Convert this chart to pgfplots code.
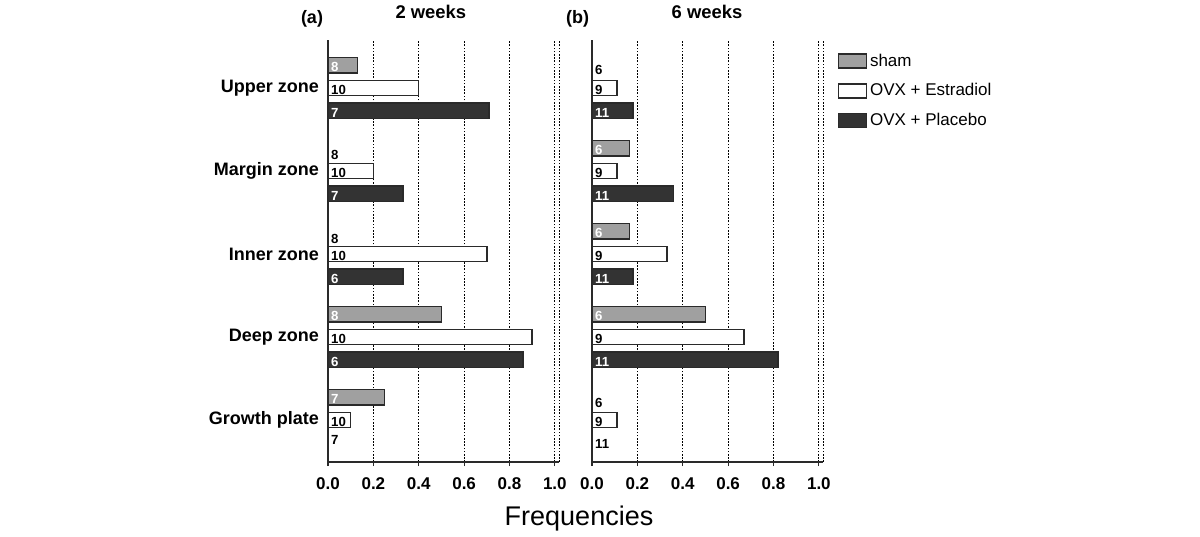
\documentclass[border=0pt]{standalone}
\usepackage{pgfplots}
\pgfplotsset{compat=1.18}
\usepackage{fontspec}
\setmainfont{Liberation Sans}
\definecolor{shamgray}{HTML}{A0A0A0}
\definecolor{darkbar}{HTML}{333333}
\definecolor{edge}{HTML}{2A2A2A}

\pgfplotsset{
  panel/.style={
    scale only axis, width=115.7pt, height=211pt, anchor=south west,
    xmin=0, xmax=1.02, ymin=-4.506, ymax=0.578,
    axis lines=left,
    axis line style={-, line width=0.8pt, color=edge},
    xtick={0,0.2,0.4,0.6,0.8,1.0},
    xtick align=outside, major tick length=2pt,
    tick style={color=edge, line width=0.6pt},
    ytick={-4,-3,-2,-1,0}, ytick style={draw=none},
    xmajorgrids,
    major x grid style={black, line width=0.5pt, dash pattern=on 0.8pt off 0.8pt},
    extra x ticks={1.02}, extra x tick labels={},
    extra x tick style={grid=major, major grid style={solid, edge, line width=0.8pt}, tick style={draw=none}},
    /pgf/number format/assume math mode=true,
    /pgf/number format/.cd, fixed, fixed zerofill, precision=1, /pgfplots/.cd,
    xticklabel style={font=\bfseries\fontsize{8.5}{8.5}\selectfont, yshift=-2.5pt},
    yticklabel style={font=\bfseries\fontsize{9}{9}\selectfont},
  },
  bars/.style={xbar, bar width=7.6pt, bar shift=0pt, draw=edge, line width=0.7pt},
  lab/.style={forget plot, draw=none, mark=none, nodes near coords, point meta=explicit symbolic,
    nodes near coords style={anchor=west, inner sep=1.4pt, font=\bfseries\fontsize{6.6}{6.6}\selectfont, text=#1}},
  leg/.style={area legend, legend image code/.code={\draw[##1] (0pt,-3.5pt) rectangle (14pt,3.5pt);}},
}

\begin{document}
\begin{tikzpicture}
\useasboundingbox (0,0) rectangle (600pt,268pt);

% ---------- panel (a): 2 weeks ----------
\begin{axis}[panel, at={(164pt,37pt)},
  yticklabels={Growth plate, Deep zone, Inner zone, Margin zone, Upper zone}]
\addplot[bars, fill=shamgray] coordinates {(0.13,0.273) (0,-0.727) (0,-1.727) (0.50,-2.727) (0.25,-3.727)};
\addplot[bars, fill=white] coordinates {(0.40,0) (0.20,-1) (0.70,-2) (0.90,-3) (0.10,-4)};
\addplot[bars, fill=darkbar] coordinates {(0.71,-0.273) (0.33,-1.273) (0.33,-2.273) (0.86,-3.273) (0,-4.273)};
\addplot[lab=white] table[meta=n] {
x y n
0 0.249 8
0 -2.751 8
0 -3.751 7
0 -0.297 7
0 -1.297 7
0 -2.297 6
0 -3.297 6
};
\addplot[lab=black] table[meta=n] {
x y n
0 -0.024 10
0 -1.024 10
0 -2.024 10
0 -3.024 10
0 -4.024 10
0 -0.807 8
0 -1.815 8
0 -4.238 7
};
\end{axis}

% ---------- panel (b): 6 weeks ----------
\begin{axis}[panel, at={(296pt,37pt)}, yticklabels={},
  legend style={at={(rel axis cs:1,1)}, anchor=north west, xshift=7pt, yshift=-6.5pt,
    draw=none, fill=none, inner sep=0pt, row sep=7.2pt,
    nodes={inner sep=0pt, text height=6pt, text depth=1pt},
    font=\fontsize{8.5}{9}\selectfont},
  legend cell align=left]
\addplot[bars, leg, fill=shamgray] coordinates {(0,0.273) (0.165,-0.727) (0.165,-1.727) (0.50,-2.727) (0,-3.727)};
\addlegendentry{\,sham}
\addplot[bars, leg, fill=white] coordinates {(0.11,0) (0.11,-1) (0.33,-2) (0.67,-3) (0.11,-4)};
\addlegendentry{\,OVX + Estradiol}
\addplot[bars, leg, fill=darkbar] coordinates {(0.18,-0.273) (0.36,-1.273) (0.18,-2.273) (0.82,-3.273) (0,-4.273)};
\addlegendentry{\,OVX + Placebo}
\addplot[lab=white] table[meta=n] {
x y n
0 -0.751 6
0 -1.751 6
0 -2.751 6
0 -0.297 11
0 -1.297 11
0 -2.297 11
0 -3.297 11
};
\addplot[lab=black] table[meta=n] {
x y n
0 -0.024 9
0 -1.024 9
0 -2.024 9
0 -3.024 9
0 -4.024 9
0 0.217 6
0 -3.790 6
0 -4.283 11
};
\end{axis}

% ---------- titles ----------
\node[anchor=base, font=\bfseries\fontsize{9}{9}\selectfont] at (156pt,256pt) {(a)};
\node[anchor=base, font=\bfseries\fontsize{9.2}{9}\selectfont] at (215.4pt,258.5pt) {2 weeks};
\node[anchor=base, font=\bfseries\fontsize{9}{9}\selectfont] at (288.8pt,256pt) {(b)};
\node[anchor=base, font=\bfseries\fontsize{9.2}{9}\selectfont] at (353.5pt,258.5pt) {6 weeks};
\node[anchor=base, font=\fontsize{13.5}{14}\selectfont] at (289.5pt,5.5pt) {Frequencies};
\end{tikzpicture}
\end{document}
